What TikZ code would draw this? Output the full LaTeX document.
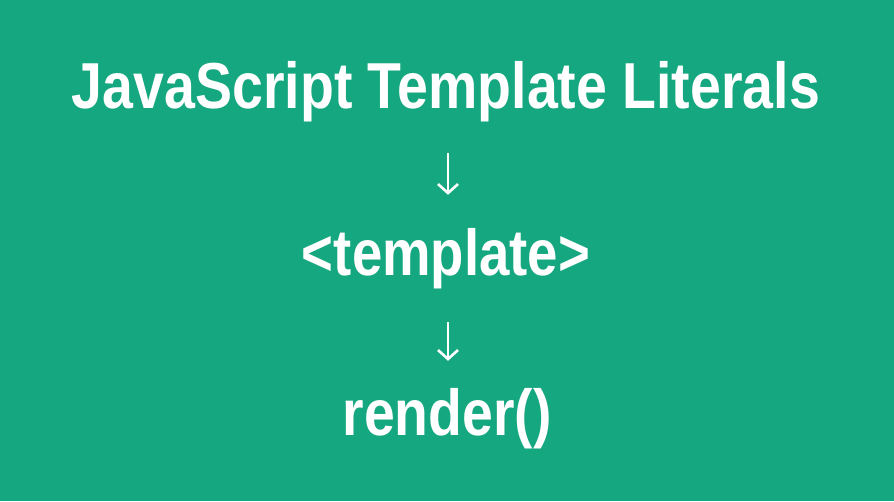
\documentclass[tikz,border=0pt]{standalone}
\usepackage{fontspec}
\usepackage{graphicx}
\setmainfont{Liberation Sans}
\usetikzlibrary{arrows.meta}
\definecolor{bggreen}{RGB}{21,168,128}
\tikzset{
  label/.style={text=white, inner sep=0pt, anchor=base, text height=50pt, text depth=14pt, font=\fontsize{65pt}{70pt}\selectfont\bfseries},
  flow/.style={draw=white, line width=2.6pt, -{Straight Barb[length=9pt,width=20pt,line width=2.6pt]}}
}
\begin{document}
\begin{tikzpicture}[x=1pt,y=1pt]
\fill[bggreen] (0,0) rectangle (894,-501);
\useasboundingbox (0,0) rectangle (894,-501);
\node[label] (title) at (446,-108) {\resizebox{748pt}{\height}{JavaScript Template Literals}};
\node[label] (tmpl) at (446,-275) {\resizebox{288pt}{\height}{<template>}};
\node[label] (render) at (447,-435) {\resizebox{209pt}{\height}{render()}};
\draw[flow, shorten <=31pt, shorten >=30pt] ([xshift=2pt]title.south) -- ([xshift=2pt]tmpl.north);
\draw[flow, shorten <=33pt, shorten >=24pt] ([xshift=2pt]tmpl.south) -- ([xshift=1pt]render.north);
\end{tikzpicture}
\end{document}
